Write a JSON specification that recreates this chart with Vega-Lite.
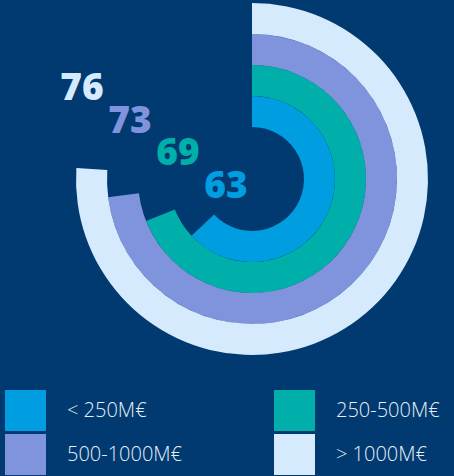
{
  "$schema": "https://vega.github.io/schema/vega-lite/v6.json",
  "width": 404,
  "height": 358,
  "padding": {"left": 50, "top": 0, "right": 0, "bottom": 118},
  "autosize": {"type": "none"},
  "background": "#003A70",
  "config": {"view": {"stroke": null}, "font": "Open Sans"},
  "data": {"values": [
    {"category": "< 250M€", "rank": 1, "value": 63},
    {"category": "250-500M€", "rank": 2, "value": 69},
    {"category": "500-1000M€", "rank": 3, "value": 73},
    {"category": "> 1000M€", "rank": 4, "value": 76}
  ]},
  "layer": [
    {
      "mark": {"type": "arc", "radius2Offset": -31, "theta2": 0},
      "encoding": {
        "theta": {"field": "value", "type": "quantitative", "stack": null, "scale": {"domain": [0, 100], "range": [0, 6.283185]}},
        "radius": {"field": "rank", "type": "quantitative", "scale": {"type": "linear", "domain": [0, 4], "range": [52, 176]}},
        "radius2": {"field": "rank", "type": "quantitative"},
        "color": {
          "field": "category", "type": "nominal",
          "scale": {"domain": ["< 250M€", "250-500M€", "500-1000M€", "> 1000M€"], "range": ["#009EE0", "#00AFA9", "#8094DD", "#D5EAFD"]},
          "legend": {
            "orient": "none", "legendX": -45, "legendY": 390, "columns": 2, "direction": "horizontal", "title": null,
            "symbolType": "square", "symbolSize": 1681, "symbolStrokeWidth": 0, "symbolOpacity": 1,
            "labelFontSize": 20, "labelColor": "#E6EEF7", "labelFont": "Open Sans", "labelFontWeight": 300,
            "labelOffset": 21, "columnPadding": 91, "rowPadding": 3, "padding": 0
          }
        }
      }
    },
    {
      "mark": {"type": "text", "fontSize": 37, "fontWeight": 900, "font": "Open Sans"},
      "encoding": {
        "x": {"field": "rank", "type": "quantitative", "scale": {"domain": [1, 4], "range": [176, 32]}, "axis": null},
        "y": {"field": "rank", "type": "quantitative", "scale": {"domain": [1, 4], "range": [187, 89]}, "axis": null},
        "text": {"field": "value", "type": "quantitative"},
        "color": {"field": "category", "type": "nominal", "legend": null}
      }
    }
  ]
}
